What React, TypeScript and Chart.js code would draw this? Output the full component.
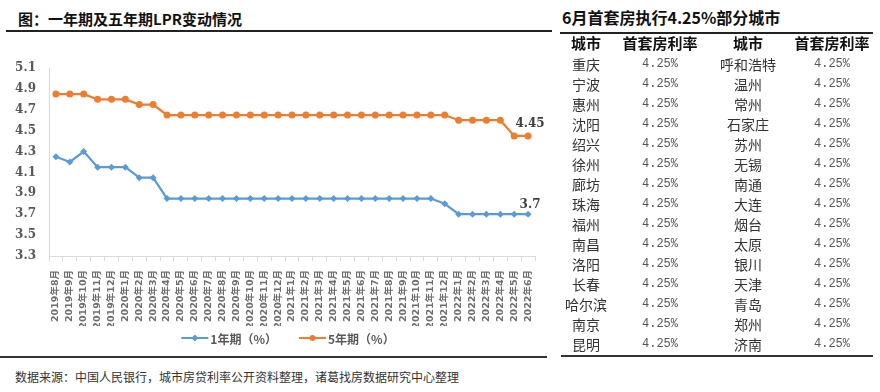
import React, { useEffect, useRef } from "react";
import { Chart, registerables } from "chart.js";

Chart.register(...registerables);

const categories = [
  "2019年8月", "2019年9月", "2019年10月", "2019年11月", "2019年12月",
  "2020年1月", "2020年2月", "2020年3月", "2020年4月", "2020年5月", "2020年6月",
  "2020年7月", "2020年8月", "2020年9月", "2020年10月", "2020年11月", "2020年12月",
  "2021年1月", "2021年2月", "2021年3月", "2021年4月", "2021年5月", "2021年6月",
  "2021年7月", "2021年8月", "2021年9月", "2021年10月", "2021年11月", "2021年12月",
  "2022年1月", "2022年2月", "2022年3月", "2022年4月", "2022年5月", "2022年6月",
];

const lpr1y = [
  4.25, 4.2, 4.3, 4.15, 4.15, 4.15, 4.05, 4.05,
  3.85, 3.85, 3.85, 3.85, 3.85, 3.85, 3.85, 3.85, 3.85, 3.85,
  3.85, 3.85, 3.85, 3.85, 3.85, 3.85, 3.85, 3.85, 3.85, 3.85,
  3.8, 3.7, 3.7, 3.7, 3.7, 3.7, 3.7,
];

const lpr5y = [
  4.85, 4.85, 4.85, 4.8, 4.8, 4.8, 4.75, 4.75,
  4.65, 4.65, 4.65, 4.65, 4.65, 4.65, 4.65, 4.65, 4.65, 4.65,
  4.65, 4.65, 4.65, 4.65, 4.65, 4.65, 4.65, 4.65, 4.65, 4.65,
  4.65, 4.6, 4.6, 4.6, 4.6, 4.45, 4.45,
];

const seriesNames = ["1年期（%）", "5年期（%）"];
const yTicks = [3.3, 3.5, 3.7, 3.9, 4.1, 4.3, 4.5, 4.7, 4.9, 5.1];

const tableHeaders = ["城市", "首套房利率", "城市", "首套房利率"];
const leftCities = ["重庆", "宁波", "惠州", "沈阳", "绍兴", "徐州", "廊坊", "珠海", "福州", "南昌", "洛阳", "长春", "哈尔滨", "南京", "昆明"];
const rightCities = ["呼和浩特", "温州", "常州", "石家庄", "苏州", "无锡", "南通", "大连", "烟台", "太原", "银川", "天津", "青岛", "郑州", "济南"];
const leftRates = ["4.25%", "4.25%", "4.25%", "4.25%", "4.25%", "4.25%", "4.25%", "4.25%", "4.25%", "4.25%", "4.25%", "4.25%", "4.25%", "4.25%", "4.25%"];
const rightRates = ["4.25%", "4.25%", "4.25%", "4.25%", "4.25%", "4.25%", "4.25%", "4.25%", "4.25%", "4.25%", "4.25%", "4.25%", "4.25%", "4.25%", "4.25%"];

const BLUE = "#5B9BD5";
const ORANGE = "#ED7D31";
const CJK = '"Noto Sans CJK SC", "Noto Sans", sans-serif';
const SERIF_NUM = '"DejaVu Serif", "Noto Sans CJK SC", serif';

function drawMarker(ctx: CanvasRenderingContext2D, style: string, x: number, y: number, r: number, color: string) {
  ctx.beginPath();
  if (style === "rectRot") {
    ctx.moveTo(x, y - r);
    ctx.lineTo(x + r, y);
    ctx.lineTo(x, y + r);
    ctx.lineTo(x - r, y);
    ctx.closePath();
  } else {
    ctx.arc(x, y, r, 0, Math.PI * 2);
  }
  ctx.fillStyle = color;
  ctx.fill();
}

const lineLegend = {
  id: "lineLegend",
  afterDraw(chart: any) {
    const ctx: CanvasRenderingContext2D = chart.ctx;
    const y = chart.height - 14;
    ctx.save();
    ctx.font = `bold 12px ${CJK}`;
    const lineW = 27;
    const gapText = 2;
    const gapItem = 22;
    const items = chart.data.datasets.map((ds: any) => ({
      ds,
      w: lineW + gapText + ctx.measureText(ds.label).width,
    }));
    const total = items.reduce((s: number, it: any) => s + it.w, 0) + gapItem * (items.length - 1);
    let x = (chart.chartArea.left + chart.chartArea.right) / 2 - total / 2 - 4;
    for (const it of items) {
      const ds = it.ds;
      ctx.strokeStyle = ds.borderColor;
      ctx.lineWidth = 2;
      ctx.beginPath();
      ctx.moveTo(x, y);
      ctx.lineTo(x + lineW, y);
      ctx.stroke();
      drawMarker(ctx, ds.pointStyle, x + lineW / 2, y, ds.pointStyle === "rectRot" ? 3.5 : 3, ds.borderColor);
      ctx.fillStyle = "#595959";
      ctx.textAlign = "left";
      ctx.textBaseline = "middle";
      ctx.fillText(ds.label, x + lineW + gapText, y + 1);
      x += it.w + gapItem;
    }
    ctx.restore();
  },
};

const endLabels = {
  id: "endLabels",
  afterDatasetsDraw(chart: any) {
    const ctx: CanvasRenderingContext2D = chart.ctx;
    ctx.save();
    ctx.font = `bold 12px ${SERIF_NUM}`;
    ctx.fillStyle = "#404040";
    ctx.textAlign = "center";
    ctx.textBaseline = "middle";
    chart.data.datasets.forEach((ds: any, i: number) => {
      const meta = chart.getDatasetMeta(i);
      const last = meta.data.length - 1;
      const pt = meta.data[last];
      const v = ds.data[last];
      const dy = i === 1 ? 12 : 9;
      ctx.fillText(String(v), pt.x + 2, pt.y - dy);
    });
    ctx.restore();
  },
};

function LprChart() {
  const ref = useRef<HTMLCanvasElement | null>(null);
  useEffect(() => {
    if (!ref.current) return;
    const chart = new Chart(ref.current, {
      type: "line",
      data: {
        labels: categories,
        datasets: [
          {
            label: seriesNames[0],
            data: lpr1y,
            borderColor: BLUE,
            backgroundColor: BLUE,
            borderWidth: 2.25,
            pointStyle: "rectRot",
            pointRadius: 3.5,
            pointBorderWidth: 0,
            pointBackgroundColor: BLUE,
            tension: 0,
          },
          {
            label: seriesNames[1],
            data: lpr5y,
            borderColor: ORANGE,
            backgroundColor: ORANGE,
            borderWidth: 2.25,
            pointStyle: "circle",
            pointRadius: 3.5,
            pointBorderWidth: 0,
            pointBackgroundColor: ORANGE,
            tension: 0,
          },
        ],
      },
      options: {
        responsive: false,
        animation: false,
        devicePixelRatio: 1,
        layout: { padding: { top: 28, right: 17, left: 0, bottom: 26 } },
        plugins: {
          legend: { display: false },
          tooltip: { enabled: false },
          title: { display: false },
        },
        scales: {
          x: {
            type: "category",
            offset: true,
            grid: {
              display: true,
              drawOnChartArea: false,
              drawTicks: true,
              tickLength: 5,
              offset: true,
              color: "#d9d9d9",
            },
            border: { display: true, color: "#d9d9d9", width: 1 },
            ticks: {
              autoSkip: false,
              maxRotation: 90,
              minRotation: 90,
              padding: 9,
              color: "#6e6e6e",
              font: { family: '"DejaVu Sans", "Noto Sans CJK SC", sans-serif', size: 9.5, weight: "bold" },
            },
            afterFit(scale: any) {
              scale.height = 70;
            },
          },
          y: {
            type: "linear",
            min: 3.3,
            max: 5.1,
            grid: { display: false, drawTicks: false },
            border: { display: true, color: "#d9d9d9", width: 1 },
            afterBuildTicks(scale: any) {
              scale.ticks = yTicks.map((v) => ({ value: v }));
            },
            ticks: {
              padding: 13,
              color: "#595959",
              font: { family: SERIF_NUM, size: 12, weight: "bold" },
              callback: (v: any) => Number(v).toFixed(1),
            },
            afterFit(scale: any) {
              scale.width = 49;
            },
          },
        },
      },
      plugins: [endLabels, lineLegend],
    } as any);
    return () => chart.destroy();
  }, []);
  return <canvas ref={ref} width={552} height={312} style={{ width: 552, height: 312, display: "block" }} />;
}

function Cell({ cx, cy, text, style }: { cx: number; cy: number; text: string; style?: React.CSSProperties }) {
  return (
    <div
      style={{
        position: "absolute",
        left: cx - 60,
        top: cy - 10,
        width: 120,
        height: 20,
        lineHeight: "20px",
        textAlign: "center",
        whiteSpace: "nowrap",
        ...style,
      }}
    >
      {text}
    </div>
  );
}

export default function App() {
  const colCenters = [586, 660, 748, 832];
  const rowY0 = 63.5;
  const rowStep = 20.05;
  const rateStyle: React.CSSProperties = {
    fontFamily: '"Liberation Mono", "DejaVu Sans Mono", monospace',
    fontSize: 12,
    color: "#555",
  };
  const cityStyle: React.CSSProperties = { fontFamily: CJK, fontSize: 14, color: "#333" };
  return (
    <div
      style={{
        position: "fixed",
        left: 0,
        top: 0,
        width: 880,
        height: 392,
        background: "#fff",
        overflow: "hidden",
        fontFamily: CJK,
      }}
    >
      <div
        style={{
          position: "absolute",
          left: 18,
          top: 9,
          fontSize: 15,
          fontWeight: "bold",
          color: "#111",
          lineHeight: "20px",
          whiteSpace: "nowrap",
        }}
      >
        图：一年期及五年期LPR变动情况
      </div>
      <div style={{ position: "absolute", left: 6, top: 30, width: 546, height: 2, background: "#222" }} />

      <div style={{ position: "absolute", left: 0, top: 40 }}>
        <LprChart />
      </div>

      <div style={{ position: "absolute", left: 0, top: 356, width: 547, height: 2, background: "#333" }} />
      <div
        style={{
          position: "absolute",
          left: 15,
          top: 368,
          fontSize: 12,
          color: "#333",
          lineHeight: "18px",
          whiteSpace: "nowrap",
        }}
      >
        数据来源：中国人民银行，城市房贷利率公开资料整理，诸葛找房数据研究中心整理
      </div>

      <div
        style={{
          position: "absolute",
          left: 562,
          top: 6,
          fontSize: 16,
          fontWeight: "bold",
          color: "#111",
          lineHeight: "22px",
          whiteSpace: "nowrap",
        }}
      >
        6月首套房执行4.25%部分城市
      </div>
      <div style={{ position: "absolute", left: 560, top: 32, width: 313, height: 2, background: "#222" }} />
      {tableHeaders.map((h, i) => (
        <Cell
          key={"h" + i}
          cx={colCenters[i]}
          cy={43}
          text={h}
          style={{ fontFamily: CJK, fontSize: 15, fontWeight: "bold", color: "#111" }}
        />
      ))}
      {leftCities.map((c, r) => (
        <React.Fragment key={"r" + r}>
          <Cell cx={colCenters[0]} cy={rowY0 + r * rowStep} text={c} style={cityStyle} />
          <Cell cx={colCenters[1]} cy={rowY0 + r * rowStep} text={leftRates[r]} style={rateStyle} />
          <Cell cx={colCenters[2]} cy={rowY0 + r * rowStep} text={rightCities[r]} style={cityStyle} />
          <Cell cx={colCenters[3]} cy={rowY0 + r * rowStep} text={rightRates[r]} style={rateStyle} />
        </React.Fragment>
      ))}
      <div style={{ position: "absolute", left: 561, top: 355, width: 312, height: 2, background: "#333" }} />
    </div>
  );
}
